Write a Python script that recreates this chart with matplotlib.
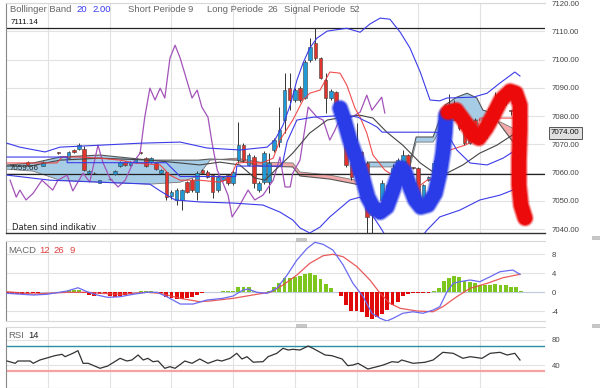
import numpy as np
import matplotlib
matplotlib.use("Agg")
import matplotlib.pyplot as plt
from matplotlib.patches import Rectangle

plt.rcParams['font.family'] = ['Liberation Sans', 'DejaVu Sans']

# ---------------- candles (bar index, open, high, low, close) ----------------
candle_idx = [4, 7, 10, 12, 13, 14, 15, 16, 17, 18, 20, 21, 22, 23, 24, 25, 26, 27, 28, 29,
              30, 31, 32, 33, 34, 35, 36, 37, 38, 39, 40, 41, 42, 43, 44, 45, 46, 47, 48, 49,
              50, 51, 52, 53, 54, 55, 56, 57, 58, 59, 60, 61, 62, 63, 64, 65, 66, 67, 68, 69,
              70, 71, 72, 73, 74, 75, 76, 77, 78, 79, 80, 81, 82, 83, 84, 85, 86, 87, 88, 89,
              90, 91, 92, 93, 94, 95, 96, 97, 98, 99, 100]
candle_open = [7063.7, 7062.5, 7067.0, 7065.3, 7068.0, 7068.3, 7068.3, 7059.8, 7059.9, 7056.4,
               7057.7, 7059.5, 7062.3, 7063.7, 7062.7, 7063.7, 7067.0, 7065.1, 7063.7, 7063.4,
               7059.8, 7060.2, 7051.7, 7050.3, 7050.3, 7056.6, 7057.3, 7053.1, 7060.9, 7060.2,
               7059.1, 7053.8, 7057.3, 7059.1, 7056.3, 7064.4, 7069.7, 7062.7, 7065.5, 7053.8,
               7056.6, 7056.6, 7068.0, 7070.8, 7078.6, 7089.9, 7085.7, 7089.9, 7086.4, 7099.8,
               7105.8, 7100.5, 7092.7, 7086.4, 7088.5, 7079.6, 7069.7, 7063.4, 7064.4, 7067.3,
               7063.4, 7045.5, 7045.0, 7050.3, 7052.0, 7055.6, 7060.9, 7063.4, 7066.2, 7061.7,
               7061.6, 7051.3, 7057.3, 7058.1, 7063.4, 7070.4, 7078.6, 7082.8, 7079.3, 7078.6,
               7070.4, 7078.6, 7074.0, 7072.2, 7081.1, 7081.4, 7082.1, 7088.1, 7081.9, 7085.7,
               7081.1]
candle_high = [7064.0, 7064.0, 7067.2, 7067.6, 7068.3, 7070.4, 7069.3, 7060.8, 7060.3, 7057.5,
               7058.1, 7060.8, 7064.0, 7064.0, 7064.0, 7065.4, 7067.2, 7065.4, 7065.4, 7063.7,
               7061.2, 7060.5, 7054.0, 7054.5, 7054.2, 7057.0, 7058.1, 7060.5, 7061.2, 7060.9,
               7059.5, 7059.1, 7058.8, 7059.5, 7060.9, 7077.9, 7070.4, 7066.9, 7066.2, 7057.0,
               7067.6, 7066.9, 7072.2, 7083.2, 7095.2, 7095.2, 7089.9, 7090.5, 7100.0, 7107.6,
               7111.1, 7101.0, 7095.2, 7089.5, 7089.0, 7083.5, 7070.4, 7064.0, 7077.5, 7067.6,
               7064.0, 7046.0, 7049.0, 7057.3, 7056.0, 7063.0, 7065.0, 7068.0, 7066.6, 7062.0,
               7062.0, 7056.0, 7058.8, 7064.4, 7071.0, 7079.3, 7088.0, 7085.7, 7080.0, 7079.3,
               7079.3, 7079.3, 7074.5, 7079.0, 7083.2, 7088.5, 7088.5, 7088.5, 7082.1, 7086.4,
               7081.5]
candle_low = [7062.5, 7062.3, 7066.6, 7065.0, 7067.0, 7068.0, 7060.5, 7059.5, 7059.5, 7056.2,
              7057.3, 7059.3, 7062.0, 7062.5, 7062.5, 7063.5, 7066.7, 7062.0, 7063.5, 7061.0,
              7059.5, 7050.3, 7050.5, 7048.5, 7046.7, 7052.7, 7053.1, 7050.3, 7059.5, 7058.1,
              7051.0, 7053.1, 7057.0, 7055.6, 7055.6, 7063.4, 7063.7, 7062.3, 7054.5, 7053.1,
              7056.0, 7052.7, 7067.3, 7069.0, 7074.0, 7082.1, 7085.0, 7085.0, 7086.0, 7099.1,
              7100.0, 7093.0, 7081.1, 7085.7, 7081.1, 7079.0, 7062.0, 7057.3, 7063.7, 7063.0,
              7038.6, 7038.6, 7044.0, 7049.2, 7051.3, 7055.0, 7060.5, 7063.0, 7059.8, 7061.2,
              7051.0, 7051.0, 7057.0, 7058.0, 7063.0, 7070.0, 7078.0, 7078.6, 7075.2, 7069.7,
              7070.0, 7073.3, 7071.8, 7071.8, 7080.3, 7081.1, 7081.7, 7084.0, 7080.3, 7080.7,
              7073.5]
candle_close = [7062.7, 7063.7, 7066.9, 7067.3, 7067.3, 7069.7, 7060.9, 7060.5, 7059.7, 7057.2,
                7057.6, 7060.5, 7063.7, 7062.7, 7063.7, 7065.1, 7066.9, 7062.3, 7065.1, 7061.2,
                7060.9, 7051.3, 7053.1, 7053.8, 7053.8, 7053.1, 7053.8, 7059.8, 7059.8, 7058.4,
                7053.1, 7058.4, 7058.4, 7056.3, 7060.2, 7069.7, 7064.4, 7066.2, 7056.3, 7056.3,
                7066.9, 7063.4, 7071.5, 7075.0, 7089.2, 7085.7, 7089.2, 7085.7, 7099.1, 7104.4,
                7100.5, 7093.4, 7086.4, 7088.9, 7083.2, 7082.8, 7062.7, 7058.4, 7067.3, 7063.4,
                7044.3, 7045.0, 7048.5, 7056.3, 7055.6, 7061.6, 7064.4, 7066.2, 7062.0, 7061.5,
                7051.3, 7055.6, 7058.4, 7063.4, 7070.4, 7078.6, 7082.8, 7079.3, 7075.7, 7070.4,
                7078.6, 7074.0, 7072.2, 7078.6, 7082.8, 7086.4, 7087.4, 7084.6, 7081.7, 7081.1,
                7074.0]

# ---------------- indicator lines (bar index, value) ----------------
bb_upper_x = [0, 2.5, 5.4, 7.4, 10.3, 18.1, 25.9, 33.7, 38.9, 45.3, 50.6, 52.1, 53.7, 55.1, 56.4,
              57.6, 58.9, 60.3, 62.3, 66.1, 68.7, 70.6, 72.6, 74.5, 76.5, 78.4, 80.4, 82.3,
              84.2, 85.6, 90.7, 93.4, 95.9, 98.8, 99.8]
bb_upper_y = [7070.4, 7069.0, 7068.0, 7067.3, 7069.0, 7069.7, 7070.4, 7070.8, 7068.7, 7068.0,
              7069.0, 7071.5, 7076.8, 7083.9, 7092.7, 7098.8, 7104.1, 7107.6, 7110.1, 7111.1,
              7109.7, 7112.6, 7114.7, 7114.3, 7109.7, 7104.1, 7095.6, 7085.7, 7085.4, 7086.4,
              7086.7, 7088.1, 7091.7, 7095.6, 7094.2]
bb_lower_x = [0, 8.4, 18.1, 27.8, 29.8, 32.7, 37.5, 44.0, 49.8, 53.1, 55.6, 57.0, 58.9, 60.9,
              62.8, 66.7, 68.7, 70.0, 72.6, 73.5, 76.5, 79.4, 81.7, 84.2, 88.1, 92.0, 95.9,
              98.4, 99.8]
bb_lower_y = [7059.1, 7057.3, 7056.6, 7055.9, 7053.5, 7050.3, 7049.6, 7049.2, 7048.5, 7046.0,
              7043.2, 7040.4, 7038.6, 7040.7, 7044.3, 7050.3, 7051.3, 7047.8, 7040.7, 7038.0,
              7032.6, 7034.3, 7039.6, 7044.3, 7046.7, 7050.3, 7052.0, 7053.8, 7054.5]
sma_x = [0, 4.5, 10.3, 18.1, 27.8, 33.7, 37.5, 41.4, 45.3, 48.2, 50.2, 51.8, 55.6, 58.9, 62.3,
         65.4, 68.7, 71.2, 73.9, 77.0, 80.4, 82.9, 85.6, 88.7, 92.0, 95.3, 99.2, 99.8]
sma_y = [7062.3, 7062.3, 7064.4, 7065.1, 7064.4, 7063.4, 7062.7, 7063.7, 7062.7, 7058.1, 7057.3,
         7060.2, 7066.9, 7074.0, 7078.6, 7079.6, 7080.3, 7079.3, 7074.3, 7069.7, 7063.4, 7060.2,
         7059.8, 7062.7, 7066.9, 7069.7, 7074.3, 7075.0]
short_x = [0, 9.7, 10.7, 14.2, 18.1, 22.0, 24.9, 29.8, 31.7, 33.7, 37.5, 41.4, 43.4, 44.7, 47.3,
           49.6, 51.8, 53.1, 55.6, 57.6, 58.9, 60.9, 62.8, 64.8, 66.1, 67.7, 68.7, 70.0, 71.2,
           73.5, 76.5, 78.4, 80.0, 81.7, 83.3, 85.2, 86.2, 89.1, 91.1, 92.0, 100]
short_y = [7063.4, 7063.4, 7065.5, 7065.5, 7065.1, 7064.4, 7063.4, 7062.7, 7059.1, 7057.3,
           7057.3, 7056.6, 7058.1, 7063.4, 7063.7, 7063.4, 7065.1, 7071.5, 7078.6, 7085.7,
           7088.1, 7089.2, 7095.6, 7095.2, 7091.0, 7082.8, 7079.6, 7074.0, 7066.2, 7060.9,
           7057.3, 7056.6, 7054.9, 7057.3, 7058.4, 7064.4, 7068.0, 7069.7, 7071.5, 7079.3, 7079.3]
long_x = [0, 11.7, 11.7, 31.0, 33.7, 44.5, 44.7, 53.5, 54.5, 56.4, 59.5, 66.0, 68.3, 69.3,
          70.6, 72.0, 73.0, 82.9, 85.6, 87.5, 90.1, 93.4, 96.5, 98.4, 99.8]
long_y = [7065.5, 7065.5, 7063.5, 7063.5, 7058.6, 7058.6, 7062.3, 7062.3, 7071.0, 7078.6,
          7079.6, 7080.3, 7079.6, 7078.6, 7077.5, 7076.1, 7074.3, 7074.3, 7074.0, 7068.0,
          7063.4, 7062.7, 7065.1, 7067.3, 7068.0]
lag_x = [0.6, 1.8, 2.5, 3.7, 5.1, 6.8, 8.9, 9.9, 11.7, 12.8, 14.8, 16.1, 17.7, 18.7, 20.0, 21.6,
         23.0, 24.5, 25.9, 26.8, 27.8, 28.8, 29.8, 30.7, 31.7, 32.7, 33.7, 36.0, 37.0, 37.9,
         39.1, 39.9, 40.9, 41.8, 43.0, 43.8, 45.3, 46.9, 48.2, 49.8, 51.8, 53.1, 54.1, 55.1,
         55.6, 57.0, 58.6, 60.3, 61.5, 62.8, 63.8, 65.2, 66.1, 68.7, 70.0, 71.0, 72.9, 73.5]
lag_y = [7057.3, 7051.3, 7053.8, 7050.3, 7052.7, 7057.3, 7053.8, 7057.3, 7059.1, 7053.5, 7059.8,
         7056.6, 7069.7, 7063.4, 7058.1, 7054.9, 7057.3, 7063.4, 7066.9, 7079.6, 7089.9, 7085.7,
         7089.9, 7086.4, 7100.5, 7105.1, 7100.5, 7086.4, 7089.2, 7083.2, 7079.6, 7070.4, 7060.9,
         7057.3, 7052.0, 7044.3, 7048.5, 7053.8, 7050.3, 7052.0, 7057.3, 7065.5, 7054.9, 7054.9,
         7059.8, 7064.4, 7083.2, 7079.6, 7078.6, 7071.5, 7075.0, 7081.1, 7078.6, 7081.4, 7087.4,
         7082.1, 7086.7, 7081.1]
cloud_x = [0, 5.1, 10.3, 18.1, 27.8, 33.7, 37.2, 39.5, 44.7, 49.2, 55.6, 57.0, 62.8, 68.7,
           70.2, 78.4, 79.6, 82.9, 85.2, 87.5, 89.5, 91.4, 92.6, 94.0, 95.0, 96.0, 99.2, 100]
cloud_a = [7062.7, 7063.4, 7065.5, 7066.2, 7064.4, 7064.4, 7064.4, 7064.8, 7064.4, 7062.3,
           7062.0, 7058.8, 7057.7, 7055.6, 7063.7, 7063.7, 7072.6, 7072.6, 7083.9, 7086.7,
           7088.1, 7086.4, 7082.1, 7081.4, 7079.3, 7076.8, 7069.0, 7068.7]
cloud_b = [7061.2, 7060.5, 7057.3, 7056.6, 7055.9, 7056.6, 7058.8, 7064.4, 7065.1, 7063.7,
           7063.4, 7060.2, 7059.1, 7057.0, 7062.0, 7062.0, 7070.8, 7070.8, 7077.9, 7078.6,
           7078.6, 7078.6, 7078.6, 7078.6, 7078.2, 7077.9, 7075.0, 7075.0]
level_high = 7111.14
level_low = 7059.66
last_price = 7074.00

# hand-drawn annotation strokes (bar index, price)
w_x = [64.8, 65.6, 66.7, 68.1, 69.3, 70.2, 71.2, 72.6, 73.9, 74.9, 75.9, 76.7, 77.4, 78.4, 79.4,
       80.5, 81.9, 83.3, 84.2, 84.8, 85.2, 85.4]
w_y = [7082.8, 7078.6, 7071.5, 7064.4, 7057.3, 7051.3, 7047.8, 7046.0, 7047.8, 7052.7, 7058.1,
       7061.6, 7060.2, 7054.9, 7050.3, 7047.8, 7048.5, 7052.7, 7059.8, 7066.9, 7074.0, 7080.3]
m_x = [85.8, 87.4, 89.1, 90.7, 91.8, 93.2, 94.6, 96.1, 97.9, 99.0, 99.8, 99.8, 99.6, 99.6, 100.0,
       100.6, 100.8]
m_y = [7081.4, 7082.1, 7077.9, 7073.3, 7072.2, 7075.7, 7080.3, 7085.7, 7088.8, 7088.1, 7083.9,
       7075.0, 7064.4, 7055.6, 7048.5, 7045.0, 7043.9]

# ---------------- MACD ----------------
macd_hist = [-0.3, -0.4, -0.4, -0.4, -0.3, -0.3, -0.2, -0.1, 0.0, 0.1, 0.1, 0.2, 0.4, 0.5, 0.4,
             -0.2, -0.6, -0.9, -0.5, -0.2, -0.9, -1.0, -0.9, -0.7, -0.5, 0.1, 0.3, 0.3, 0.2, 0.0,
             -0.3, -1.1, -1.3, -1.4, -1.4, -1.2, -1.0, -0.6, -0.2, 0.1, 0.0, 0.1, 0.2, 0.2, 0.3,
             1.0, 1.1, 1.0, 0.3, 0.1, 0.1, 0.3, 1.1, 1.8, 2.9, 3.0, 3.2, 3.4, 3.7, 3.9, 3.6, 2.8,
             1.6, 0.9, 0.1, -0.9, -2.7, -4.1, -4.1, -4.2, -5.3, -5.7, -5.3, -4.6, -3.8, -2.7,
             -2.0, -0.9, -0.4, -0.2, -0.3, -0.3, -0.2, 0.3, 0.9, 2.3, 3.0, 3.4, 3.2, 2.3, 2.1,
             1.9, 1.4, 1.4, 1.5, 1.7, 1.4, 1.4, 1.1, 1.1, 0.3]
macd_x = [0, 5.1, 7.8, 11.7, 13.8, 15.6, 17.5, 19.6, 22.0, 24.5, 27.2, 29.2, 31.1, 33.7, 36.2,
          38.9, 42.0, 44.0, 45.9, 46.9, 48.6, 50.6, 52.5, 54.5, 56.4, 58.4, 59.9, 61.5, 63.4,
          65.4, 67.3, 69.3, 71.0, 72.6, 73.9, 75.1, 77.0, 79.0, 80.9, 82.9, 84.2, 85.6, 86.8,
          88.1, 90.1, 92.0, 94.0, 95.9, 98.4, 99.8]
macd_y = [-0.27, -0.63, -0.48, 0.21, 0.9, 0.06, -0.63, -1.12, -0.99, -0.48, -0.06, -0.06, -0.99,
          -2.53, -2.53, -1.68, -1.33, -0.84, 0.42, 0.63, -0.06, -0.27, 0.78, 3.58, 6.74, 9.2,
          10.46, 10.04, 8.84, 5.68, 1.83, -0.99, -4.48, -5.54, -6.1, -5.54, -4.48, -4.15, -4.48,
          -3.79, -3.09, 0.06, 1.83, 2.17, 2.53, 2.17, 3.22, 4.27, 4.63, 3.73]
signal_x = [0, 5.1, 11.7, 15.6, 18.1, 22.0, 27.2, 29.8, 33.7, 37.5, 39.5, 44.0, 48.6, 51.2,
            53.7, 56.4, 58.9, 61.5, 63.4, 65.4, 68.1, 70.6, 72.6, 74.5, 76.5, 79.8, 82.9, 84.8,
            87.5, 90.1, 93.4, 96.5, 99.8]
signal_y = [0.06, -0.42, -0.06, -0.06, -0.27, -0.48, -0.06, -0.27, -1.33, -2.04, -1.89, -1.33,
            -0.48, -0.06, 1.47, 3.58, 6.04, 7.64, 7.94, 7.43, 5.33, 2.53, -0.27, -2.38, -3.43,
            -4.0, -4.15, -3.09, -0.99, 0.78, 1.83, 3.01, 3.73]

# ---------------- RSI ----------------
rsi_x = [0, 1.6, 2.1, 4.5, 5.1, 6.4, 9.3, 10.7, 11.3, 12.8, 13.8, 14.8, 15.8, 18.1, 19.6, 22.0,
         23.3, 24.3, 25.5, 26.5, 27.4, 28.4, 29.4, 30.7, 31.7, 32.7, 34.6, 36.0, 37.5, 39.1,
         40.9, 41.8, 43.4, 44.7, 45.7, 46.7, 47.9, 49.8, 50.8, 52.5, 53.7, 54.7, 55.6, 57.0,
         58.6, 59.5, 61.9, 63.2, 65.2, 66.3, 67.3, 68.3, 70.2, 72.0, 73.2, 74.9, 76.1, 76.8,
         79.0, 81.3, 82.9, 84.8, 86.8, 88.7, 90.1, 92.4, 94.0, 95.9, 97.3, 98.8, 99.8]
rsi_y = [46.4, 42.7, 46.4, 46.4, 42.7, 48.0, 54.9, 57.1, 53.3, 58.7, 62.9, 42.7, 42.7, 34.7, 38.4,
         50.7, 46.4, 48.0, 56.0, 48.0, 50.7, 45.3, 46.4, 34.7, 37.3, 34.7, 46.4, 42.7, 49.6, 42.7,
         48.0, 46.4, 50.7, 58.7, 49.6, 53.3, 44.5, 45.3, 53.3, 58.7, 66.7, 64.0, 65.1, 64.0, 70.4,
         66.7, 56.0, 54.9, 49.6, 38.9, 40.0, 42.7, 33.6, 37.3, 40.0, 45.3, 44.3, 48.0, 42.7, 44.3,
         48.0, 60.3, 58.7, 50.7, 53.3, 50.7, 58.7, 60.3, 56.0, 58.7, 48.0]
rsi_upper = 70
rsi_lower = 30

# ---------------- layout ----------------
W, H = 600, 388
fig = plt.figure(figsize=(6, 3.88), dpi=100)
fig.patch.set_facecolor('white')


def fx(px):
    return px / W


def fy(py):
    return 1 - py / H


L, R = 6, 545
ax = fig.add_axes([fx(L), fy(233), fx(R - L), (233 - 3) / H])
axm = fig.add_axes([fx(L), fy(321), fx(R - L), (321 - 241) / H])
axr = fig.add_axes([fx(L), 0, fx(R - L), (388 - 327) / H])

xmin, xmax = (L - 7) / 5.14, (R - 7) / 5.14
grid_x = [8, 20, 32, 44, 56, 68, 80, 92]
grid_c = '#e2e2e2'
for a in (ax, axm, axr):
    a.set_xlim(xmin, xmax)
    a.set_xticks(grid_x)
    a.tick_params(axis='x', length=0, labelbottom=False)
    a.grid(True, color=grid_c, lw=0.8, zorder=0)
    a.yaxis.tick_right()
    a.tick_params(axis='y', length=0, labelsize=5.6, labelcolor='#444', pad=5)
    for s in ('top', 'right', 'bottom'):
        a.spines[s].set_color('#d8d8d8')
    a.spines['right'].set_visible(False)
    a.spines['left'].set_color('#888888')
    a.set_axisbelow(True)

# ---------------- main panel ----------------
ax.set_ylim(7038.6, 7120.05)
ax.set_yticks(np.arange(7040, 7121, 10))
ax.set_yticklabels([f"{v:.2f}" for v in np.arange(7040, 7121, 10)])
ax.spines['bottom'].set_color('#333333')
ax.spines['bottom'].set_linewidth(1.0)

ca, cb = np.array(cloud_a), np.array(cloud_b)
ax.fill_between(cloud_x, ca, cb, where=ca >= cb, interpolate=True, color='#9ec8e4', alpha=0.9,
                lw=0, zorder=1)
ax.fill_between(cloud_x, ca, cb, where=ca < cb, interpolate=True, color='#f2a0a0', alpha=0.9,
                lw=0, zorder=1)
ax.plot(cloud_x, cloud_a, color='#555555', lw=0.8, zorder=2)
ax.plot(cloud_x, cloud_b, color='#777777', lw=0.6, zorder=2)

ax.axhline(level_high, color='#222222', lw=0.9, zorder=2)
ax.axhline(level_low, color='#222222', lw=0.9, zorder=2)

o, h, l, c = map(np.array, (candle_open, candle_high, candle_low, candle_close))
up = c >= o
ax.vlines(candle_idx, l, h, color='#333333', lw=0.7, zorder=3)
ax.bar(candle_idx, np.maximum(np.abs(c - o), 0.3), bottom=np.minimum(o, c), width=0.7,
       color=np.where(up, '#1f9ad6', '#e2332c'), edgecolor='#404040', linewidth=0.4, zorder=3)

ax.plot(lag_x, lag_y, color='#a353b9', lw=0.9, zorder=4)
ax.plot(sma_x, sma_y, color='#444444', lw=0.8, zorder=4)
ax.plot(short_x, short_y, color='#f03a3a', lw=0.8, alpha=0.9, zorder=4)
ax.plot(long_x, long_y, color='#3b3bea', lw=0.8, zorder=4)
ax.plot(bb_upper_x, bb_upper_y, color='#3b3bea', lw=0.8, zorder=4)
ax.plot(bb_lower_x, bb_lower_y, color='#3b3bea', lw=0.8, zorder=4)

for lw, al in ((13, 0.25), (11.5, 0.5), (10, 1.0)):
    ax.plot(w_x, w_y, color='#2a3ce8', lw=lw, alpha=al, solid_capstyle='round',
            solid_joinstyle='round', zorder=10)
for lw, al in ((13, 0.25), (11.5, 0.5), (10, 1.0)):
    ax.plot(m_x, m_y, color='#ec0a0a', lw=lw, alpha=al, solid_capstyle='round',
            solid_joinstyle='round', zorder=10)

# price labels
fig.text(fx(11), fy(23), f"{level_high:.2f}", fontsize=5.8, color='#111', va='center')
fig.text(fx(10), fy(168), f"{level_low:.2f}", fontsize=5.8, color='#222', va='center', zorder=1)
fig.text(fx(551), fy(133), f"{last_price:.2f}", fontsize=5.8, color='#111', va='center',
         bbox=dict(boxstyle='square,pad=0.3', fc='#e0e0e0', ec='#555555', lw=0.7))
fig.text(fx(12), fy(228), "Daten sind indikativ", fontsize=6, color='#222', va='center',
         family=['DejaVu Sans'])

# header
hy = fy(10)
gray = '#666666'
blue = '#3a3af0'
fig.text(fx(10), hy, "Bollinger Band", fontsize=6.8, color=gray, va='center')
fig.text(fx(76), hy, "20", fontsize=6.8, color=blue, va='center')
fig.text(fx(92), hy, "2.00", fontsize=6.8, color=blue, va='center')
fig.text(fx(128), hy, "Short Periode", fontsize=6.8, color=gray, va='center')
fig.text(fx(188), hy, "9", fontsize=6.8, color=gray, va='center')
fig.text(fx(207), hy, "Long Periode", fontsize=6.8, color=gray, va='center')
fig.text(fx(267), hy, "26", fontsize=6.8, color=gray, va='center')
fig.text(fx(284), hy, "Signal Periode", fontsize=6.8, color=gray, va='center')
fig.text(fx(350), hy, "52", fontsize=6.8, color=gray, va='center')

# ---------------- MACD panel ----------------
axm.set_ylim(-6.1, 10.74)
axm.set_yticks([-4, 0, 4, 8])
axm.set_yticklabels(['-4', '0', '4', '8'])
axm.axhline(0, color='#bccadb', lw=0.8, zorder=1)
hist = np.array(macd_hist)
axm.bar(np.arange(len(hist)), hist, width=0.75,
        color=np.where(hist >= 0, '#7cc61e', '#e00a0a'), lw=0, zorder=2)
axm.plot(signal_x, signal_y, color='#e84848', lw=0.9, alpha=0.9, zorder=3)
axm.plot(macd_x, macd_y, color='#6a6af2', lw=0.9, zorder=3)
fig.text(fx(8), fy(250), "MACD", fontsize=6.8, color=gray, va='center')
fig.text(fx(39), fy(250), "12", fontsize=6.8, color='#e04040', va='center')
fig.text(fx(53), fy(250), "26", fontsize=6.8, color='#e04040', va='center')
fig.text(fx(69), fy(250), "9", fontsize=6.8, color='#e04040', va='center')

# ---------------- RSI panel ----------------
axr.set_ylim(3.2, 100.8)
axr.set_yticks([40, 80])
axr.set_yticklabels(['40', '80'])
axr.axhline(rsi_upper, color='#2b8ea3', lw=1.0, zorder=2)
axr.axhline(rsi_lower, color='#f4a3a3', lw=1.6, zorder=2)
axr.plot(rsi_x, rsi_y, color='#333333', lw=0.9, zorder=3)
fig.text(fx(8), fy(336), "RSI", fontsize=6.8, color=gray, va='center')
fig.text(fx(28), fy(336), "14", fontsize=6.8, color='#222', va='center')

# panel grips
for (gx, gy) in ((296, 238), (296, 324), (592, 236), (592, 324)):
    fig.patches.append(Rectangle((fx(gx), fy(gy + 3)), 10 / W, 3 / H, transform=fig.transFigure,
                                 fc='#c8c8c8', ec='#aaaaaa', lw=0.4))

fig.savefig("out.png", dpi=100)
